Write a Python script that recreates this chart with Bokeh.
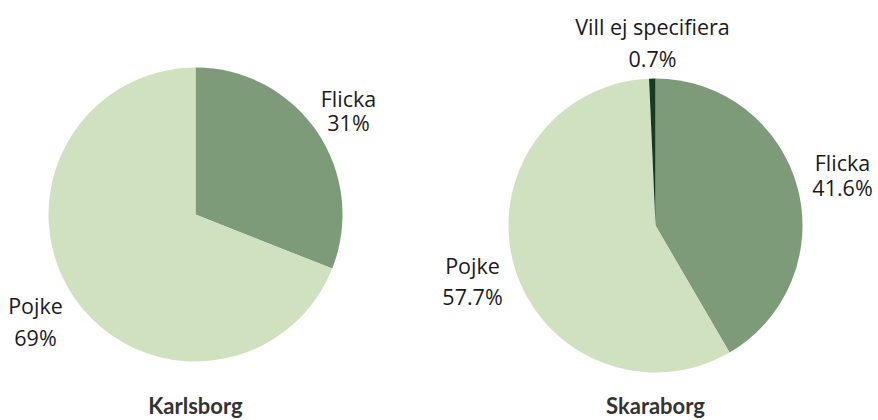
import numpy as np
from bokeh.plotting import figure
from bokeh.models import Range1d, ColumnDataSource
from bokeh.core.properties import value
from bokeh.embed import file_html
from bokeh.resources import INLINE

# ---- data ----
regions = ["Karlsborg", "Skaraborg"]
karlsborg_cats = ["Flicka", "Pojke"]
karlsborg_vals = [31.0, 69.0]
karlsborg_lbls = ["31%", "69%"]
skaraborg_cats = ["Flicka", "Pojke", "Vill ej specifiera"]
skaraborg_vals = [41.6, 57.7, 0.7]
skaraborg_lbls = ["41.6%", "57.7%", "0.7%"]
colors = {"Flicka": "#7d9b78", "Pojke": "#d0e1c0", "Vill ej specifiera": "#173b22"}

W, H = 878, 420
p = figure(width=W, height=H, output_backend="svg", toolbar_location=None,
           x_range=Range1d(0, W), y_range=Range1d(0, H), min_border=0)
p.axis.visible = False
p.grid.visible = False
p.outline_line_color = None
p.background_fill_color = "white"
p.border_fill_color = "white"

def Y(page_y):
    return H - page_y

def X(page_x):
    return page_x

R = 147
FONT = "Open Sans"
LBL_SIZE = "21.5px"

def pie(cx, cy, cats, vals, lbls, label_pos):
    v = np.array(vals, dtype=float)
    frac = v / v.sum()
    cum = np.concatenate([[0], np.cumsum(frac)])
    start = np.pi / 2 - 2 * np.pi * cum[1:]
    end = np.pi / 2 - 2 * np.pi * cum[:-1]
    src = ColumnDataSource(dict(x=[cx] * len(cats), y=[cy] * len(cats),
                                start=start, end=end,
                                color=[colors[c] for c in cats]))
    p.wedge(x="x", y="y", radius=R, start_angle="start", end_angle="end",
            fill_color="color", line_color=None, source=src)
    for c, l, pos in zip(cats, lbls, label_pos):
        (x1, y1), (x2, y2) = pos
        p.text(x=[X(x1)], y=[Y(y1)], text=[c], text_align="center", text_baseline="middle",
               text_font=value(FONT), text_font_size=LBL_SIZE, text_color="#1a1a1a")
        p.text(x=[X(x2)], y=[Y(y2)], text=[l], text_align="center", text_baseline="middle",
               text_font=value(FONT), text_font_size=LBL_SIZE, text_color="#1a1a1a")

pie(X(195), Y(214), karlsborg_cats, karlsborg_vals, karlsborg_lbls,
    [((348, 98), (348, 122)), ((35, 305), (35, 337))])
pie(X(655), Y(225), skaraborg_cats, skaraborg_vals, skaraborg_lbls,
    [((842, 162), (842, 187)), ((472, 265), (472, 296)), ((652, 26), (652, 58))])

p.text(x=[X(195), X(655)], y=[Y(405), Y(405)], text=regions, text_align="center",
       text_baseline="middle", text_font=value("Lato"), text_font_style="bold",
       text_font_size="22px", text_color="#333333")

open("out.html", "w").write(file_html(p, INLINE))
